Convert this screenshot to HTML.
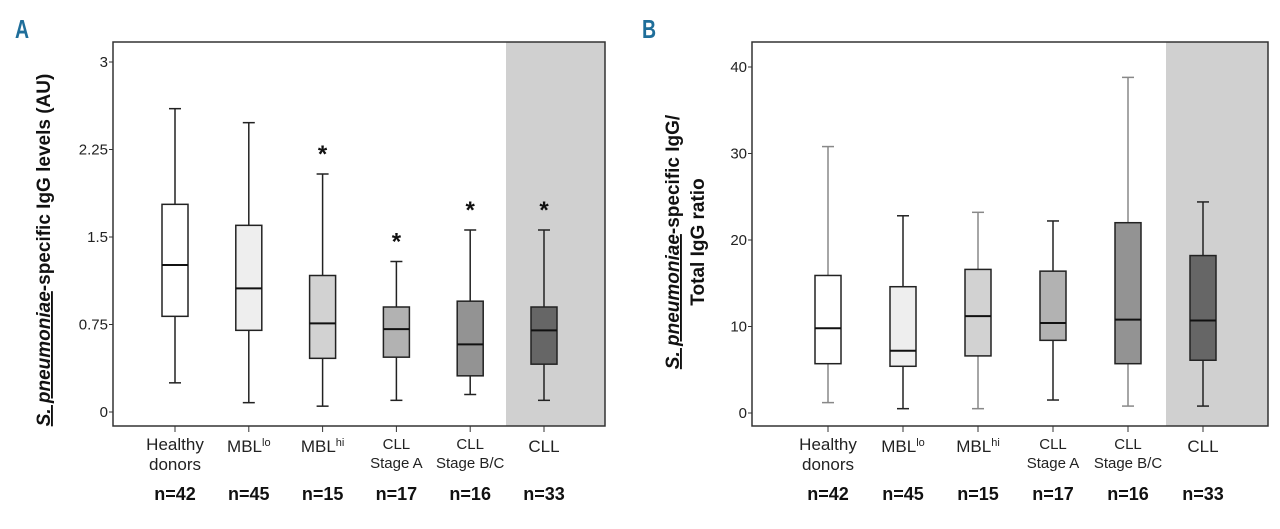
<!DOCTYPE html>
<html><head><meta charset="utf-8"><style>
body{margin:0;background:#fff;width:1280px;height:524px;overflow:hidden}
svg text{font-family:"Liberation Sans",sans-serif}
</style></head><body>
<svg id="s" width="1280" height="524" xmlns="http://www.w3.org/2000/svg"></svg>
<script>
const categories=[["Healthy","donors"],["MBL","lo"],["MBL","hi"],["CLL","Stage A"],["CLL","Stage B/C"],["CLL",""]];
const nLabels=["n=42","n=45","n=15","n=17","n=16","n=33"];
const fills=["#ffffff","#eeeeee","#d2d2d2","#b2b2b2","#939393","#666666"];
// [min,q1,median,q3,max]
const seriesA=[[0.25,0.82,1.26,1.78,2.6],[0.08,0.7,1.06,1.6,2.48],[0.05,0.46,0.76,1.17,2.04],[0.1,0.47,0.71,0.9,1.29],[0.15,0.31,0.58,0.95,1.56],[0.1,0.41,0.7,0.9,1.56]];
const starsA=[false,false,true,true,true,true];
const ticksA=[0,0.75,1.5,2.25,3];
const tickLabelsA=["0","0.75","1.5","2.25","3"];
const seriesB=[[1.2,5.7,9.8,15.9,30.8],[0.5,5.4,7.2,14.6,22.8],[0.5,6.6,11.2,16.6,23.2],[1.5,8.4,10.4,16.4,22.2],[0.8,5.7,10.8,22.0,38.8],[0.8,6.1,10.7,18.2,24.4]];
const ticksB=[0,10,20,30,40];
const tickLabelsB=["0","10","20","30","40"];

const S=document.getElementById('s');
const NS="http://www.w3.org/2000/svg";
function el(tag,attrs,parent,text){const e=document.createElementNS(NS,tag);for(const k in attrs)e.setAttribute(k,attrs[k]);if(text!==undefined)e.textContent=text;(parent||S).appendChild(e);return e;}

function panel(cfg){
  const g=el('g',{});
  
  
  const y=v=>cfg.y0+(v-cfg.v0)*(cfg.y1-cfg.y0)/(cfg.v1-cfg.v0);
  const xs=i=>cfg.xFirst+i*cfg.step;
  const shade=el('rect',{x:cfg.shadeX,y:cfg.top,width:cfg.right-cfg.shadeX,height:cfg.bottom-cfg.top,fill:"#d0d0d0"},g);
  
  
  const fr=el('rect',{x:cfg.left,y:cfg.top,width:cfg.right-cfg.left,height:cfg.bottom-cfg.top,fill:"none",stroke:"#333","stroke-width":1.5},g);
  
  
  cfg.ticks.forEach((t,i)=>{
    el('line',{x1:cfg.left-4,x2:cfg.left,y1:y(t),y2:y(t),stroke:"#333"},g);
    const tl=el('text',{x:cfg.left-5,y:y(t)+5,"text-anchor":"end","font-size":15,fill:"#222"},g,cfg.tickLabels[i]);
    
    
  });
  cfg.data.forEach((d,i)=>{
    const cx=xs(i),w=26;
    const bg=el('g',{},g);
    
    
    const sc=cfg.lightWhisk[i]?"#888":"#222";
    el('line',{x1:cx,x2:cx,y1:y(d[0]),y2:y(d[4]),stroke:sc,"stroke-width":1.5},bg);
    el('line',{x1:cx-6,x2:cx+6,y1:y(d[0]),y2:y(d[0]),stroke:sc,"stroke-width":1.5},bg);
    el('line',{x1:cx-6,x2:cx+6,y1:y(d[4]),y2:y(d[4]),stroke:sc,"stroke-width":1.5},bg);
    el('rect',{x:cx-w/2,y:y(d[3]),width:w,height:y(d[1])-y(d[3]),fill:fills[i],stroke:"#222","stroke-width":1.5},bg);
    el('line',{x1:cx-w/2,x2:cx+w/2,y1:y(d[2]),y2:y(d[2]),stroke:"#111","stroke-width":2},bg);
    if(cfg.stars&&cfg.stars[i]){const st=el('text',{x:cx,y:y(d[4])-12,"text-anchor":"middle","font-size":24,"font-weight":"bold",fill:"#111"},g,"*");
      
      }
    el('line',{x1:cx,x2:cx,y1:cfg.bottom,y2:cfg.bottom+6,stroke:"#333"},g);
    const c=categories[i];
    const lg=el('g',{},g);
    
    
    if(c[0]==="MBL"){
      const t=el('text',{x:cx,y:452,"text-anchor":"middle","font-size":17,fill:"#222"},lg,"MBL");
      el('tspan',{"font-size":11,dy:-6},t,c[1]);
    }else if(c[1]===""){
      el('text',{x:cx,y:452,"text-anchor":"middle","font-size":17,fill:"#222"},lg,c[0]);
    }else if(c[0]==="CLL"){
      el('text',{x:cx,y:449,"text-anchor":"middle","font-size":15,fill:"#222"},lg,c[0]);
      el('text',{x:cx,y:468,"text-anchor":"middle","font-size":15,fill:"#222"},lg,c[1]);
    }else{
      el('text',{x:cx,y:450,"text-anchor":"middle","font-size":17,fill:"#222"},lg,c[0]);
      el('text',{x:cx,y:470,"text-anchor":"middle","font-size":17,fill:"#222"},lg,c[1]);
    }
    const n=el('text',{x:cx,y:500,"text-anchor":"middle","font-size":18,"font-weight":"bold",fill:"#111"},g,nLabels[i]);
    
    
  });
}
panel({name:"panel-a-chart",left:113,right:605,top:42,bottom:426,shadeX:506,v0:0,v1:3,y0:412,y1:62,xFirst:175,step:73.8,ticks:ticksA,tickLabels:tickLabelsA,data:seriesA,stars:starsA,lightWhisk:[0,0,0,0,0,0]});
panel({name:"panel-b-chart",left:752,right:1268,top:42,bottom:426,shadeX:1166,v0:0,v1:40,y0:413,y1:67,xFirst:828,step:75,ticks:ticksB,tickLabels:tickLabelsB,data:seriesB,lightWhisk:[1,0,1,0,1,0]});
</script>
<svg width="1280" height="524" style="position:absolute;left:0;top:0" xmlns="http://www.w3.org/2000/svg">
<text x="15" y="38" font-family="Liberation Sans, sans-serif" font-size="26" font-weight="bold" fill="#1f6e9a" transform="translate(15,0) scale(0.75,1) translate(-15,0)">A</text>
<text x="642" y="38" font-family="Liberation Sans, sans-serif" font-size="26" font-weight="bold" fill="#1f6e9a" transform="translate(642,0) scale(0.75,1) translate(-642,0)">B</text>
<text transform="translate(50,250) rotate(-90)" text-anchor="middle" font-family="Liberation Sans, sans-serif" font-size="19" font-weight="bold" fill="#111"><tspan text-decoration="underline" font-style="italic">S. pneumoniae</tspan>-specific IgG levels (AU)</text>
<text transform="translate(679,242) rotate(-90)" text-anchor="middle" font-family="Liberation Sans, sans-serif" font-size="19" font-weight="bold" fill="#111"><tspan text-decoration="underline" font-style="italic">S. pneumoniae</tspan>-specific IgG/</text>
<text transform="translate(704,242) rotate(-90)" text-anchor="middle" font-family="Liberation Sans, sans-serif" font-size="19" font-weight="bold" fill="#111">Total IgG ratio</text>
</svg>
</body></html>
